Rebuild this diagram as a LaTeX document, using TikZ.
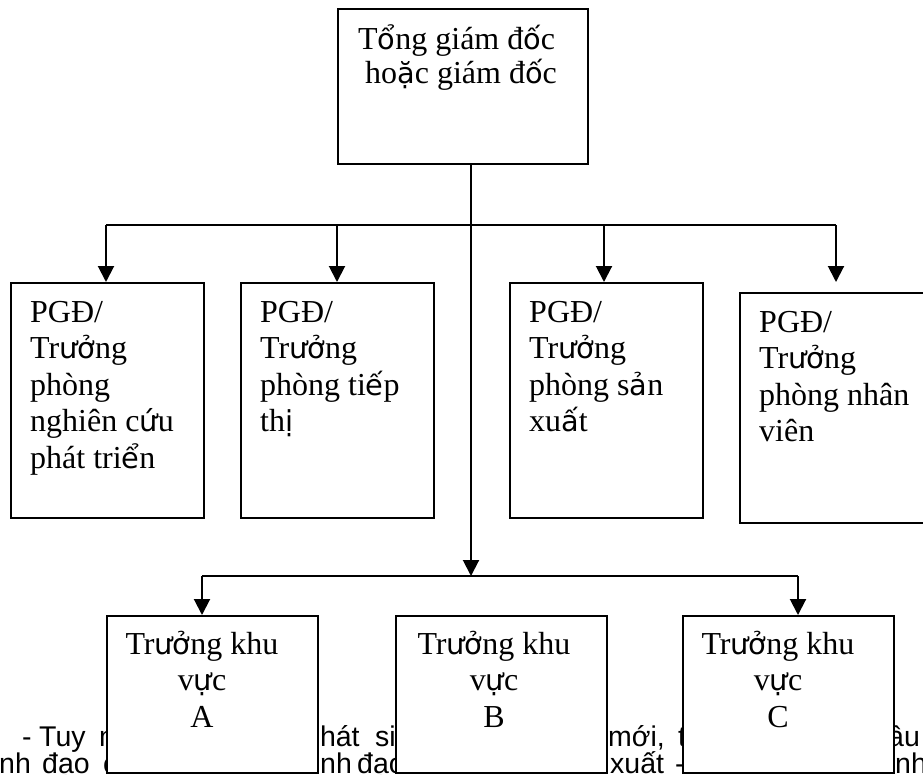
\documentclass[tikz,border=0pt]{standalone}
\usepackage{fontspec}
\setmainfont{Liberation Serif}
\newfontfamily\vnalt[Scale=0.9]{DejaVu Sans}
\newfontfamily\bodysans{Liberation Sans}
\newcommand\va[1]{{\vnalt #1}}
\newcommand\topstrut{\rule{0pt}{30pt}}
\usetikzlibrary{arrows.meta}

\begin{document}
\begin{tikzpicture}[x=1pt,y=-1pt,
  box/.style={draw, line width=1.8pt, fill=white, rectangle, inner sep=0pt, anchor=north west},
  lbl/.style={anchor=north west, inner sep=0pt, align=left, font=\fontsize{32}{36.5}\selectfont},
  clbl/.style={anchor=north, inner sep=0pt, align=center, font=\fontsize{32}{36.5}\selectfont},
  para/.style={anchor=base west, inner sep=0pt, font=\bodysans\fontsize{28.5}{33}\selectfont},
  link/.style={line width=2pt},
  arr/.style={line width=2pt, -{Triangle[width=16pt,length=16pt]}}]

\useasboundingbox (0,0) rectangle (923,774);

% running paragraph behind the area boxes
\node[para] (t1) at (22,746) {-};
\node[para] (t2) at (39,746) {Tuy};
\node[para] (t3) at (99,746) {n};
\node[para] (t4) at (304,746) {phát};
\node[para] (t5) at (375,746) {si};
\node[para] (t6) at (608,746) {mới,};
\node[para] (t7) at (678,746) {t};
\node[para] (t8) at (888,746) {âu};
\node[para] (t9) at (-1,773) {nh};
\node[para] (t10) at (42,773) {đạo};
\node[para] (t11) at (103,773) {c};
\node[para] (t12) at (320,773) {nh};
\node[para] (t13) at (357,773) {đạo};
\node[para] (t14) at (610,773) {xuất};
\node[para] (t15) at (675,773) {-};
\node[para] (t16) at (895,773) {nh};

% boxes
\node[box, minimum width=250pt, minimum height=155pt] (top) at (337,8) {};
\node[box, minimum width=193pt, minimum height=235pt] (g1) at (10,282) {};
\node[box, minimum width=193pt, minimum height=235pt] (g2) at (240,282) {};
\node[box, minimum width=193pt, minimum height=235pt] (g3) at (509,282) {};
\node[box, minimum width=220pt, minimum height=230pt] (g4) at (739,292) {};
\node[box, minimum width=211pt, minimum height=157pt] (ka) at (106,615) {};
\node[box, minimum width=211pt, minimum height=157pt] (kb) at (395,615) {};
\node[box, minimum width=211pt, minimum height=157pt] (kc) at (682,615) {};

% box texts
\node[lbl, font=\fontsize{32}{34}\selectfont] (toptxt) at (358,19)
  {\topstrut T\va{ổ}ng giám đ\va{ố}c\\\hspace*{7pt}ho\va{ặ}c giám đ\va{ố}c};
\node[lbl] (g1txt) at (30,292)
  {\topstrut PGĐ/\\Tr\va{ưở}ng\\phòng\\nghiên c\va{ứ}u\\phát tri\va{ể}n};
\node[lbl] (g2txt) at (260,292)
  {\topstrut PGĐ/\\Tr\va{ưở}ng\\phòng ti\va{ế}p\\th\va{ị}};
\node[lbl] (g3txt) at (529,292)
  {\topstrut PGĐ/\\Tr\va{ưở}ng\\phòng s\va{ả}n\\xu\va{ấ}t};
\node[lbl] (g4txt) at (759,302)
  {\topstrut PGĐ/\\Tr\va{ưở}ng\\phòng nhân\\viên};
\node[clbl] (katxt) at (202,624) {\topstrut Tr\va{ưở}ng khu\\v\va{ự}c\\A};
\node[clbl] (kbtxt) at (494,624) {\topstrut Tr\va{ưở}ng khu\\v\va{ự}c\\B};
\node[clbl] (kctxt) at (778,624) {\topstrut Tr\va{ưở}ng khu\\v\va{ự}c\\C};

% junction points
\coordinate (stem) at (471,163);
\coordinate (busL) at (106,225);
\coordinate (bus2) at (337,225);
\coordinate (bus3) at (604,225);
\coordinate (busR) at (836,225);
\coordinate (g4tip) at (836,282);
\coordinate (hub) at (471,576);
\coordinate (lowL) at (202,576);
\coordinate (lowR) at (798,576);

% connectors
\draw[arr] (stem) -- (hub);
\draw[link] (busL) -- (busR);
\draw[arr] (busL) -- (busL |- g1.north);
\draw[arr] (bus2) -- (bus2 |- g2.north);
\draw[arr] (bus3) -- (bus3 |- g3.north);
\draw[arr] (busR) -- (g4tip);
\draw[link] (lowL) -- (lowR);
\draw[arr] (lowL) -- (lowL |- ka.north);
\draw[arr] (lowR) -- (lowR |- kc.north);
\end{tikzpicture}
\end{document}
